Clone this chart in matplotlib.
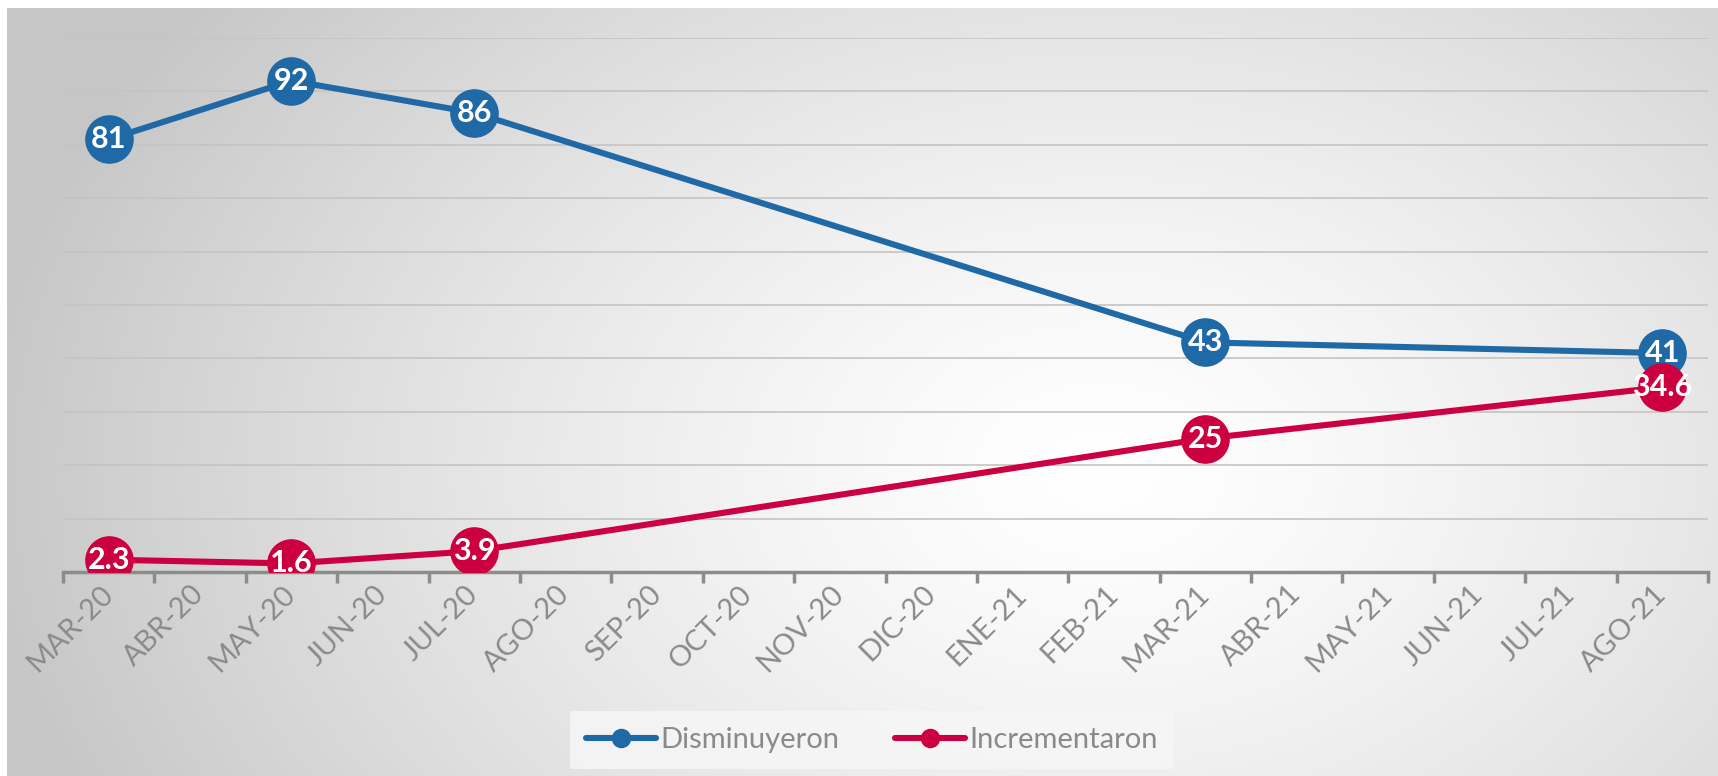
import numpy as np
import matplotlib
matplotlib.use("Agg")
import matplotlib.pyplot as plt
from matplotlib.lines import Line2D

categories = ["MAR-20", "ABR-20", "MAY-20", "JUN-20", "JUL-20", "AGO-20", "SEP-20",
              "OCT-20", "NOV-20", "DIC-20", "ENE-21", "FEB-21", "MAR-21", "ABR-21",
              "MAY-21", "JUN-21", "JUL-21", "AGO-21"]
obs_months = ["MAR-20", "MAY-20", "JUL-20", "MAR-21", "AGO-21"]
disminuyeron = [81, 92, 86, 43, 41]
incrementaron = [2.3, 1.6, 3.9, 25, 34.6]
inc_labels = ["2.3", "1.6", "3.9", "25", "34.6"]
dis_labels = ["81", "92", "86", "43", "41"]

BLUE = "#1f69a6"
RED = "#cc0040"
GRAY_TXT = "#8a8a8a"

plt.rcParams['font.family'] = ['Lato', 'DejaVu Sans']

W, H = 1718, 776
fig = plt.figure(figsize=(W / 100, H / 100), dpi=100)
fig.patch.set_facecolor("white")

# background radial gradient
bg = fig.add_axes([7 / W, 0, 1 - 7 / W, 1 - 8 / H])
bg.set_axis_off()
yy, xx = np.mgrid[0:H - 8, 0:W - 7]
cx, cy = 1100, 470
d = np.sqrt(((xx + 7 - cx) / 1.0) ** 2 + ((yy + 8 - cy) / 0.7) ** 2)
t = np.clip(d / 1120.0, 0, 1) ** 1.35
val = 1.0 - t * (1.0 - 0.78)
img = np.dstack([val, val, val])
bg.imshow(img, aspect="auto", interpolation="bilinear", extent=[0, 1, 0, 1])
bg.set_xlim(0, 1)
bg.set_ylim(0, 1)

ax = fig.add_axes([63 / W, (H - 572) / H, (1708 - 63) / W, (572 - 38) / H])
ax.set_facecolor("none")
n = len(categories)
ax.set_xlim(-0.5, n - 0.5)
ax.set_ylim(0, 100)
ax.set_yticks(np.arange(10, 101, 10))
ax.yaxis.grid(True, color="#c4c4c4", linewidth=1.2)
ax.tick_params(axis="y", length=0, labelleft=False)
for s in ["top", "right", "left"]:
    ax.spines[s].set_visible(False)
ax.spines["bottom"].set_color("#8c8c8c")
ax.spines["bottom"].set_linewidth(2.5)

ax.set_xticks(np.arange(-0.5, n, 1.0), minor=False)
ax.set_xticklabels([])
ax.tick_params(axis="x", which="major", length=8, width=2.5, color="#8c8c8c", direction="out")
ax.set_xticks(np.arange(n), minor=True)
ax.set_xticklabels(categories, minor=True, rotation=45, ha="right", va="center",
                   rotation_mode="anchor", fontsize=21, color=GRAY_TXT)
ax.tick_params(axis="x", which="minor", length=0, pad=13)

xpos = [categories.index(m) for m in obs_months]
ax.plot(xpos, disminuyeron, color=BLUE, lw=4.4, marker="o", ms=34, mfc=BLUE, mec=BLUE,
        zorder=3, solid_capstyle="round")
ax.plot(xpos, incrementaron, color=RED, lw=4.4, marker="o", ms=34, mfc=RED, mec=RED,
        zorder=3, solid_capstyle="round")
for x, v, lab in zip(xpos, disminuyeron, dis_labels):
    ax.text(x, v, lab, ha="center", va="center", color="white", fontsize=22,
            fontweight="bold", zorder=5)
for x, v, lab in zip(xpos, incrementaron, inc_labels):
    ax.text(x, v, lab, ha="center", va="center", color="white", fontsize=22,
            fontweight="bold", zorder=5)

# legend
handles = [Line2D([0], [0], color=BLUE, lw=4.4, marker="o", ms=13, solid_capstyle="round"),
           Line2D([0], [0], color=RED, lw=4.4, marker="o", ms=13, solid_capstyle="round")]
leg = fig.legend(handles, ["Disminuyeron", "Incrementaron"], loc="center",
                 bbox_to_anchor=(872 / W, 1 - 740 / H), ncol=2,
                 frameon=True, fontsize=21, handlelength=2.4, handletextpad=0.15,
                 columnspacing=1.9, borderpad=0.55, borderaxespad=0)
leg.get_frame().set_facecolor("#f6f6f6")
leg.get_frame().set_edgecolor("none")
leg.get_frame().set_alpha(0.85)
leg.get_frame().set_boxstyle("square", pad=0)
for txt in leg.get_texts():
    txt.set_color(GRAY_TXT)

fig.savefig("out.png", dpi=100)
